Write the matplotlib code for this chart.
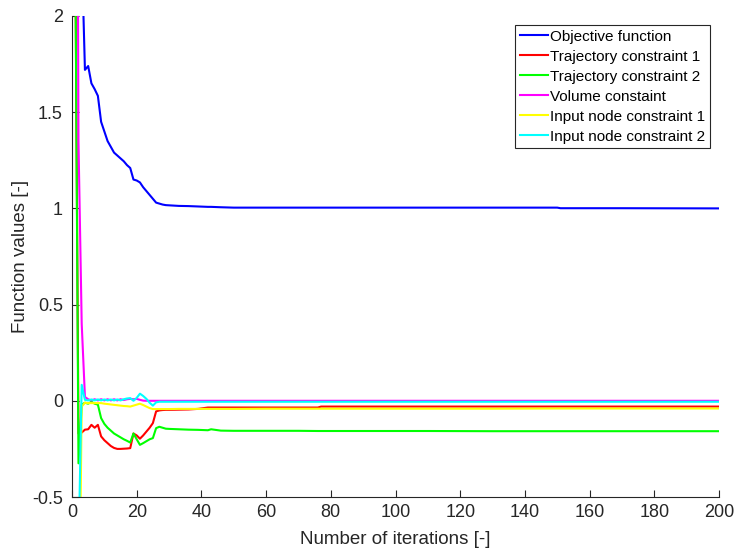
import matplotlib
matplotlib.use("Agg")
import matplotlib.pyplot as plt
from matplotlib.ticker import FixedLocator

plt.rcParams['font.family'] = ['Liberation Sans', 'DejaVu Sans']

# Logged iterations (dense at the start, sparse once the run has settled)
iterations = list(range(1, 31)) + [33, 36, 39, 42, 43, 46, 50, 60, 70, 76, 77,
                                   90, 110, 130, 150, 151, 170, 200]

objective = [3.2, 2.8, 2.34, 1.72, 1.74, 1.65, 1.62, 1.585, 1.45, 1.40,
             1.35, 1.32, 1.29, 1.275, 1.26, 1.245, 1.225, 1.21, 1.15, 1.145,
             1.135, 1.11, 1.09, 1.07, 1.05, 1.03, 1.025, 1.02, 1.017, 1.016,
             1.013, 1.012, 1.010, 1.008, 1.008, 1.006, 1.004, 1.004, 1.004, 1.004, 1.004,
             1.004, 1.004, 1.004, 1.004, 1.001, 1.001, 1.0]

trajectory_1 = [2.4, -0.17, -0.165, -0.15, -0.148, -0.125, -0.14, -0.125, -0.185, -0.205,
                -0.22, -0.235, -0.245, -0.25, -0.25, -0.249, -0.248, -0.246, -0.17, -0.18,
                -0.197, -0.18, -0.16, -0.14, -0.116, -0.055, -0.05, -0.048, -0.047, -0.047,
                -0.046, -0.045, -0.042, -0.035, -0.035, -0.035, -0.035, -0.035, -0.035, -0.035, -0.03,
                -0.03, -0.03, -0.03, -0.03, -0.03, -0.03, -0.03]

trajectory_2 = [2.4, -0.325, -0.02, -0.01, -0.015, -0.005, -0.015, -0.02, -0.09, -0.12,
                -0.14, -0.155, -0.17, -0.18, -0.19, -0.2, -0.208, -0.217, -0.17, -0.2,
                -0.229, -0.22, -0.21, -0.2, -0.194, -0.142, -0.135, -0.14, -0.145, -0.146,
                -0.148, -0.15, -0.151, -0.153, -0.148, -0.155, -0.156, -0.156, -0.156, -0.157, -0.157,
                -0.157, -0.157, -0.158, -0.158, -0.158, -0.158, -0.158]

volume = [6.0, 1.35, 0.4, 0.02, 0.008, 0.002, 0.008, 0.002, 0.008, 0.002,
          0.008, 0.002, 0.008, 0.002, 0.008, 0.004, 0.008, 0.01, 0.008, 0.01,
          0.005, 0.001, 0.0, 0.0, 0.0, 0.0, 0.0, 0.0, 0.0, 0.0,
          0.0, 0.0, 0.0, 0.0, 0.0, 0.0, 0.0, 0.0, 0.0, 0.0, 0.0,
          0.0, 0.0, 0.0, 0.0, 0.0, 0.0, 0.0]

input_node_1 = [-1.2, -1.5, -0.03, -0.01, -0.012, -0.012, -0.012, -0.012, -0.012, -0.015,
                -0.017, -0.019, -0.021, -0.023, -0.025, -0.027, -0.028, -0.03, -0.025, -0.02,
                -0.015, -0.022, -0.03, -0.038, -0.043, -0.043, -0.043, -0.043, -0.043, -0.043,
                -0.042, -0.042, -0.042, -0.042, -0.042, -0.042, -0.042, -0.041, -0.041, -0.041, -0.041,
                -0.041, -0.041, -0.041, -0.04, -0.04, -0.04, -0.04]

input_node_2 = [-1.0, -0.8, 0.083, 0.005, 0.002, 0.007, 0.002, 0.007, 0.002, 0.007,
                0.002, 0.007, 0.002, 0.007, 0.002, 0.008, 0.012, 0.014, 0.0, 0.015,
                0.037, 0.025, 0.01, -0.01, -0.025, -0.008, -0.005, -0.005, -0.005, -0.005,
                -0.005, -0.005, -0.005, -0.005, -0.005, -0.005, -0.005, -0.005, -0.005, -0.005, -0.005,
                -0.005, -0.005, -0.005, -0.005, -0.005, -0.005, -0.005]

series = [
    ("Objective function", objective, (0, 0, 1)),
    ("Trajectory constraint 1", trajectory_1, (1, 0, 0)),
    ("Trajectory constraint 2", trajectory_2, (0, 1, 0)),
    ("Volume constaint", volume, (1, 0, 1)),
    ("Input node constraint 1", input_node_1, (1, 1, 0)),
    ("Input node constraint 2", input_node_2, (0, 1, 1)),
]

x_ticks = [0, 20, 40, 60, 80, 100, 120, 140, 160, 180, 200]
y_ticks = [-0.5, 0, 0.5, 1, 1.5, 2]
y_tick_labels = ["-0.5", "0", "0.5", "1", "1.5", "2"]

axis_grey = (0.15, 0.15, 0.15)

fig = plt.figure(figsize=(7.35, 5.54), dpi=100)
ax = fig.add_axes([72 / 735, 1 - 497 / 554, (719 - 72) / 735, (497 - 16) / 554])

for label, values, color in series:
    ax.plot(iterations, values, color=color, linewidth=1.5, label=label)

ax.set_xlim(0, 200)
ax.set_ylim(-0.5, 2)
ax.xaxis.set_major_locator(FixedLocator(x_ticks))
ax.yaxis.set_major_locator(FixedLocator(y_ticks))
ax.set_yticklabels(y_tick_labels)

for side in ("top", "right"):
    ax.spines[side].set_visible(False)
for side in ("left", "bottom"):
    ax.spines[side].set_color(axis_grey)
    ax.spines[side].set_linewidth(0.8)

ax.tick_params(direction="in", length=5, width=0.8, color=axis_grey,
               labelcolor=axis_grey, labelsize=13)
ax.tick_params(axis="x", pad=5)
ax.tick_params(axis="y", pad=6.5)

ax.set_xlabel("Number of iterations [-]", fontsize=13.5, color=axis_grey, labelpad=7)
ax.set_ylabel("Function values [-]", fontsize=13.5, color=axis_grey, labelpad=2)

leg = ax.legend(loc="upper right", fontsize=11, frameon=True, fancybox=False,
                framealpha=1, edgecolor=axis_grey, borderaxespad=0.6,
                handlelength=1.85, handletextpad=0.15, borderpad=0.3,
                labelspacing=0.39)
leg.get_frame().set_linewidth(0.8)
for text in leg.get_texts():
    text.set_color((0, 0, 0))

fig.savefig("out.png", dpi=100)
